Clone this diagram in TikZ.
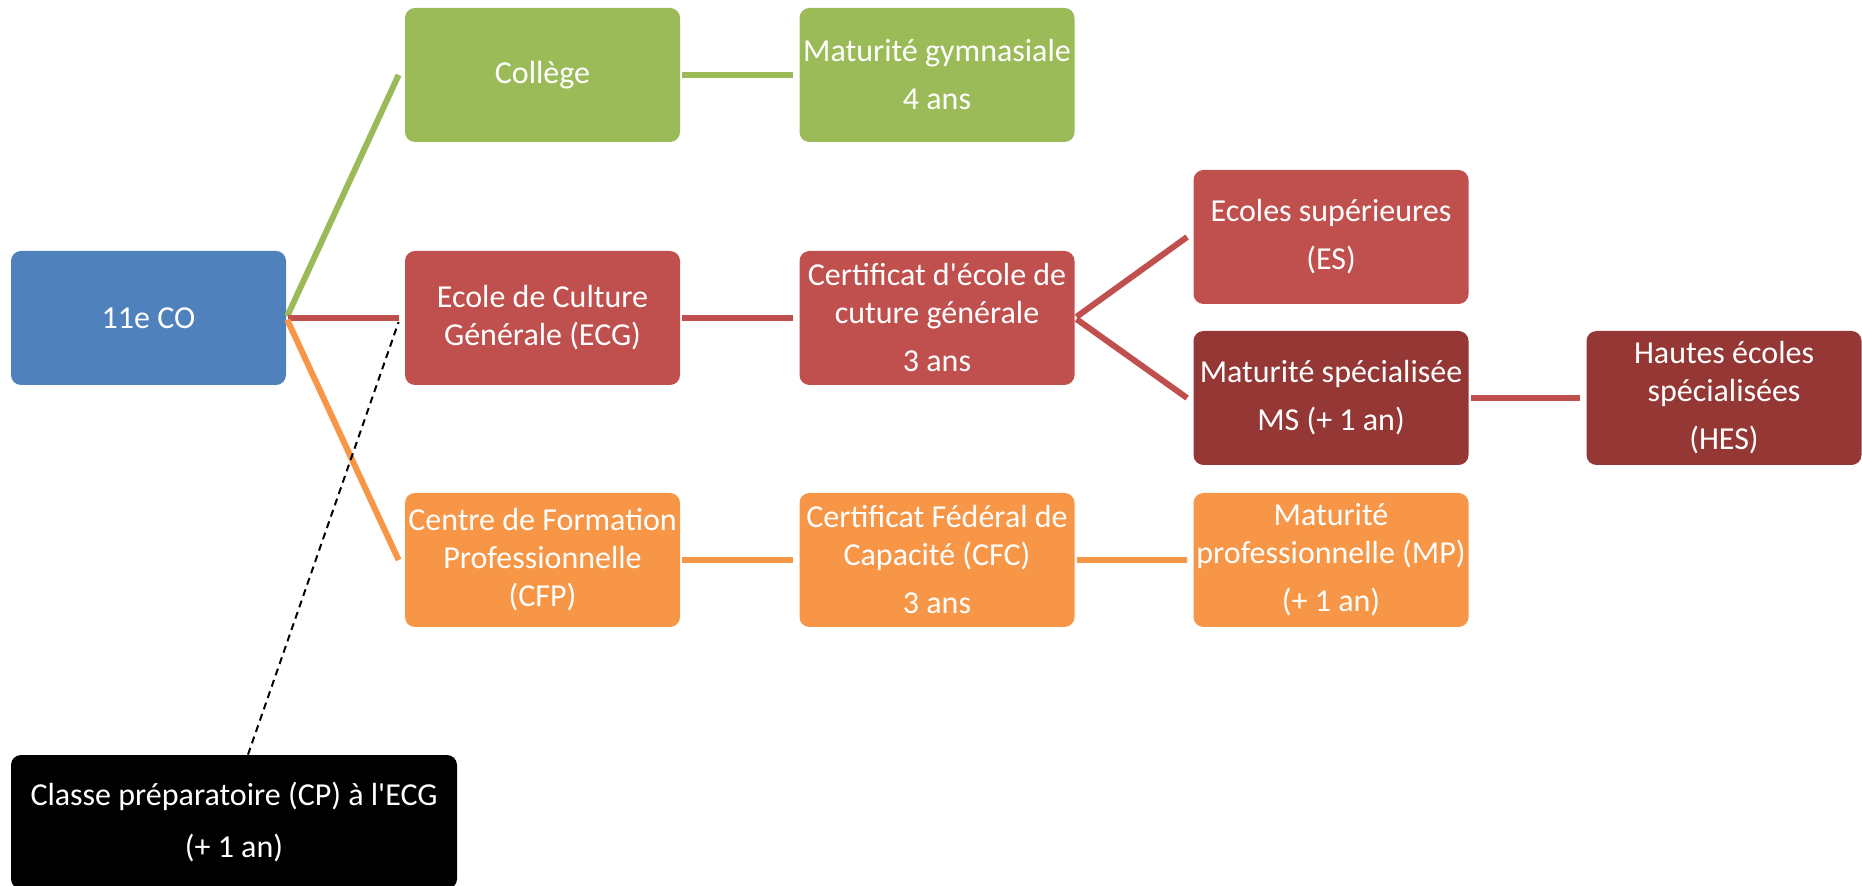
\documentclass[tikz,border=0pt]{standalone}
\usepackage{fontspec}
\setmainfont{Carlito}
\definecolor{coblue}{HTML}{4F81BD}
\definecolor{cogreen}{HTML}{9BBB59}
\definecolor{cored}{HTML}{C0504D}
\definecolor{codarkred}{HTML}{953735}
\definecolor{coorange}{HTML}{F79646}
\tikzset{
  box/.style={rounded corners=5pt, minimum width=137.5pt, minimum height=67pt, inner sep=0pt,
    text=white, align=center, font=\fontsize{16}{19}\selectfont},
  link/.style={line width=3pt, shorten <=1pt, shorten >=3pt},
  slant/.style={line width=3pt, shorten <=1pt},
  dashlink/.style={line width=1pt, dash pattern=on 3.5pt off 2.5pt},
}
\begin{document}
\begin{tikzpicture}[x=0.5pt, y=-0.5pt]
\useasboundingbox (0,0) rectangle (1862,886);
% first column
\node[box, fill=coblue] (co) at (148.5,318) {11e CO};
\node[box, fill=black, minimum width=223pt] (cp) at (234,822) {Classe préparatoire (CP) à l\textquotesingle ECG\\[7pt](+ 1 an)};
% schools
\node[box, fill=cogreen] (college) at (542.5,75) {Collège};
\node[box, fill=cored] (ecg) at (542.5,318) {Ecole de Culture\\Générale (ECG)};
\node[box, fill=coorange] (cfp) at (542.5,560) {Centre de Formation\\Professionnelle\\(CFP)};
% diplomas
\node[box, fill=cogreen] (matgym) at (937,75) {Maturité gymnasiale\\[5pt]4 ans};
\node[box, fill=cored] (cecg) at (937,318) {Certificat d\textquotesingle école de\\cuture générale\\[5pt]3 ans};
\node[box, fill=coorange] (cfc) at (937,560) {Certificat Fédéral de\\Capacité (CFC)\\[5pt]3 ans};
% further studies
\node[box, fill=cored] (es) at (1331,237) {Ecoles supérieures\\[5pt](ES)};
\node[box, fill=codarkred] (ms) at (1331,398) {Maturité spécialisée\\[5pt]MS (+ 1 an)};
\node[box, fill=coorange] (mp) at (1331,560) {Maturité\\professionnelle (MP)\\[5pt](+ 1 an)};
\node[box, fill=codarkred] (hes) at (1724,398) {Hautes écoles\\spécialisées\\[5pt](HES)};
% connectors
\draw[slant, cogreen] (co.east) -- ([xshift=-3pt]college.west);
\draw[link, cored] (co.east) -- (ecg.west);
\draw[slant, coorange] (co.east) -- ([xshift=-3pt]cfp.west);
\draw[link, cogreen] (college) -- (matgym);
\draw[link, cored] (ecg) -- (cecg);
\draw[link, coorange] (cfp) -- (cfc);
\draw[slant, cored] (cecg.east) -- ([xshift=-3pt]es.west);
\draw[slant, cored] (cecg.east) -- ([xshift=-3pt]ms.west);
\draw[link, cored] (ms) -- (hes);
\draw[link, coorange] (cfc) -- (mp);
\draw[dashlink] ([xshift=7pt]cp.north) -- ([xshift=-3pt, yshift=-2pt]ecg.west);
\end{tikzpicture}
\end{document}
